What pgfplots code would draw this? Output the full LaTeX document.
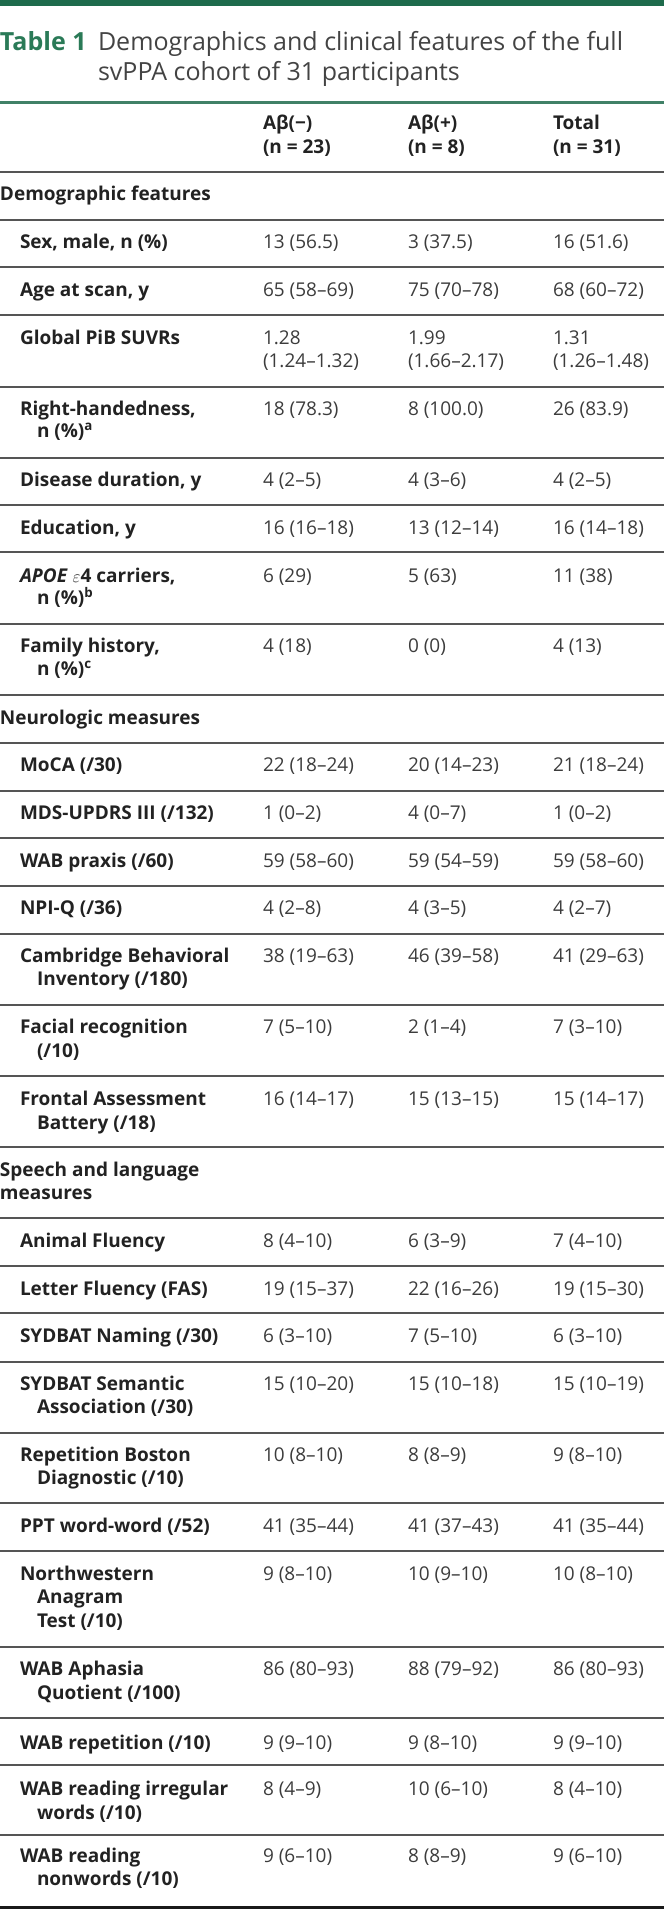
\documentclass[border=0pt]{standalone}
\usepackage{fontspec}
\setmainfont{Open Sans}
\usepackage{pgfplots}
\pgfplotsset{compat=1.18}
\definecolor{tgreen}{HTML}{1E6B4C}
\definecolor{ttitle}{HTML}{2A7A57}
\definecolor{rulec}{HTML}{555555}
\definecolor{labc}{HTML}{222222}
\definecolor{valc}{HTML}{3C3C3C}
\newcommand\vals[4]{%
  \node[val] at (axis cs:263,#1) {#2};
  \node[val] at (axis cs:408,#1) {#3};
  \node[val] at (axis cs:553,#1) {#4};}
\begin{document}
\begin{tikzpicture}[
  lab/.style={anchor=base west,inner sep=0pt,outer sep=0pt,font=\fontsize{19}{23}\selectfont\bfseries,text=labc},
  val/.style={anchor=base west,inner sep=0pt,outer sep=0pt,font=\fontsize{19}{23}\selectfont,text=valc},
  ttl/.style={anchor=base west,inner sep=0pt,outer sep=0pt,font=\fontsize{25}{30}\selectfont,text=labc!85!white}]
\begin{axis}[width=664pt,height=1909pt,scale only axis,hide axis,
  xmin=0,xmax=664,ymin=0,ymax=1909,y dir=reverse,clip=false]
\addplot[draw=none,mark=none] coordinates {(0,0) (664,1909)};
% rules
\addplot[tgreen,line width=6pt,mark=none] coordinates {(0,3) (664,3)};
\addplot[tgreen!85!white,line width=3pt,mark=none] coordinates {(0,102) (664,102)};
\pgfplotsinvokeforeach{172,220,267,315,387,458,505,552,624,695,743,791,838,886,934,1005,1076,1147,1218,1266,1313,1362,1433,1503,1551,1647,1718,1765,1835}{
  \addplot[rulec,line width=1.8pt,mark=none] coordinates {(0,#1) (664,#1)};}
\addplot[black!90,line width=3pt,mark=none] coordinates {(0,1907) (664,1907)};
% title
\node[ttl,font=\fontsize{25}{30}\selectfont\bfseries,text=ttitle] at (axis cs:0,50) {Table 1};
\node[ttl] at (axis cs:98,50) {Demographics and clinical features of the full};
\node[ttl] at (axis cs:98,80) {svPPA cohort of 31 participants};
% header
\node[lab] at (axis cs:263,129) {Aβ(−)};
\node[lab] at (axis cs:263,153) {(n = 23)};
\node[lab] at (axis cs:408,129) {Aβ(+)};
\node[lab] at (axis cs:408,153) {(n = 8)};
\node[lab] at (axis cs:553,129) {Total};
\node[lab] at (axis cs:553,153) {(n = 31)};
% Demographic
\node[lab] at (axis cs:0,200) {Demographic features};
\node[lab] at (axis cs:20,248) {Sex, male, n (\%)};
\vals{248}{13 (56.5)}{3 (37.5)}{16 (51.6)}
\node[lab] at (axis cs:20,296) {Age at scan, y};
\vals{296}{65 (58–69)}{75 (70–78)}{68 (60–72)}
\node[lab] at (axis cs:20,344) {Global PiB SUVRs};
\vals{344}{1.28}{1.99}{1.31}
\vals{367}{(1.24–1.32)}{(1.66–2.17)}{(1.26–1.48)}
\node[lab] at (axis cs:20,415) {Right-handedness,};
\node[lab] at (axis cs:37,437) {n (\%)\textsuperscript{a}};
\vals{415}{18 (78.3)}{8 (100.0)}{26 (83.9)}
\node[lab] at (axis cs:20,486) {Disease duration, y};
\vals{486}{4 (2–5)}{4 (3–6)}{4 (2–5)}
\node[lab] at (axis cs:20,534) {Education, y};
\vals{534}{16 (16–18)}{13 (12–14)}{16 (14–18)}
\node[lab] at (axis cs:20,582) {\textit{APOE} $\varepsilon$4 carriers,};
\node[lab] at (axis cs:37,604) {n (\%)\textsuperscript{b}};
\vals{582}{6 (29)}{5 (63)}{11 (38)}
\node[lab] at (axis cs:20,652) {Family history,};
\node[lab] at (axis cs:37,675) {n (\%)\textsuperscript{c}};
\vals{652}{4 (18)}{0 (0)}{4 (13)}
% Neurologic
\node[lab] at (axis cs:0,724) {Neurologic measures};
\node[lab] at (axis cs:20,771) {MoCA (/30)};
\vals{771}{22 (18–24)}{20 (14–23)}{21 (18–24)}
\node[lab] at (axis cs:20,819) {MDS-UPDRS III (/132)};
\vals{819}{1 (0–2)}{4 (0–7)}{1 (0–2)}
\node[lab] at (axis cs:20,867) {WAB praxis (/60)};
\vals{867}{59 (58–60)}{59 (54–59)}{59 (58–60)}
\node[lab] at (axis cs:20,914) {NPI-Q (/36)};
\vals{914}{4 (2–8)}{4 (3–5)}{4 (2–7)}
\node[lab] at (axis cs:20,962) {Cambridge Behavioral};
\node[lab] at (axis cs:37,985) {Inventory (/180)};
\vals{962}{38 (19–63)}{46 (39–58)}{41 (29–63)}
\node[lab] at (axis cs:20,1033) {Facial recognition};
\node[lab] at (axis cs:37,1057) {(/10)};
\vals{1033}{7 (5–10)}{2 (1–4)}{7 (3–10)}
\node[lab] at (axis cs:20,1105) {Frontal Assessment};
\node[lab] at (axis cs:37,1129) {Battery (/18)};
\vals{1105}{16 (14–17)}{15 (13–15)}{15 (14–17)}
% Speech
\node[lab] at (axis cs:0,1176) {Speech and language};
\node[lab] at (axis cs:0,1199) {measures};
\node[lab] at (axis cs:20,1247) {Animal Fluency};
\vals{1247}{8 (4–10)}{6 (3–9)}{7 (4–10)}
\node[lab] at (axis cs:20,1295) {Letter Fluency (FAS)};
\vals{1295}{19 (15–37)}{22 (16–26)}{19 (15–30)}
\node[lab] at (axis cs:20,1342) {SYDBAT Naming (/30)};
\vals{1342}{6 (3–10)}{7 (5–10)}{6 (3–10)}
\node[lab] at (axis cs:20,1390) {SYDBAT Semantic};
\node[lab] at (axis cs:37,1413) {Association (/30)};
\vals{1390}{15 (10–20)}{15 (10–18)}{15 (10–19)}
\node[lab] at (axis cs:20,1461) {Repetition Boston};
\node[lab] at (axis cs:37,1484) {Diagnostic (/10)};
\vals{1461}{10 (8–10)}{8 (8–9)}{9 (8–10)}
\node[lab] at (axis cs:20,1532) {PPT word-word (/52)};
\vals{1532}{41 (35–44)}{41 (37–43)}{41 (35–44)}
\node[lab] at (axis cs:20,1580) {Northwestern};
\node[lab] at (axis cs:37,1603) {Anagram};
\node[lab] at (axis cs:37,1627) {Test (/10)};
\vals{1580}{9 (8–10)}{10 (9–10)}{10 (8–10)}
\node[lab] at (axis cs:20,1675) {WAB Aphasia};
\node[lab] at (axis cs:37,1699) {Quotient (/100)};
\vals{1675}{86 (80–93)}{88 (79–92)}{86 (80–93)}
\node[lab] at (axis cs:20,1749) {WAB repetition (/10)};
\vals{1749}{9 (9–10)}{9 (8–10)}{9 (9–10)}
\node[lab] at (axis cs:20,1795) {WAB reading irregular};
\node[lab] at (axis cs:37,1819) {words (/10)};
\vals{1795}{8 (4–9)}{10 (6–10)}{8 (4–10)}
\node[lab] at (axis cs:20,1862) {WAB reading};
\node[lab] at (axis cs:37,1885) {nonwords (/10)};
\vals{1862}{9 (6–10)}{8 (8–9)}{9 (6–10)}
\end{axis}
\pgfresetboundingbox
\path (current axis.south west) rectangle (current axis.north east);
\end{tikzpicture}
\end{document}
